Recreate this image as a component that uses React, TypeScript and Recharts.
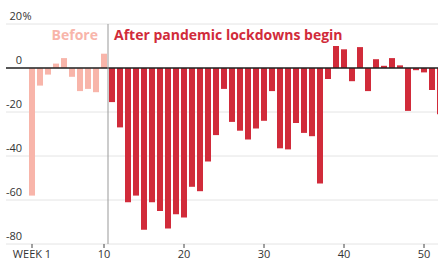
import React from 'react';
import { BarChart, Bar, XAxis, YAxis, CartesianGrid, ReferenceLine, Cell } from 'recharts';

const weeks = [
  1, 2, 3, 4, 5, 6, 7, 8, 9, 10,
  11, 12, 13, 14, 15, 16, 17, 18, 19, 20,
  21, 22, 23, 24, 25, 26, 27, 28, 29, 30,
  31, 32, 33, 34, 35, 36, 37, 38, 39, 40,
  41, 42, 43, 44, 45, 46, 47, 48, 49, 50,
  51, 52,
];

const changes = [
  -58, -8, -3, 2, 4.5, -4, -10.5, -9.5, -11, 6.5,
  -15.5, -27, -61, -58, -73.5, -61, -65, -73, -66.5, -68,
  -54, -56, -42.5, -30.5, -9.5, -24.5, -28.5, -32.5, -27.5, -24,
  -10.5, -36.5, -37, -25, -29.5, -31, -52.5, -5, 10, 8.5,
  -6, 9.5, -10.5, 4, 1, 4.5, 1.2, -19.5, -1, -2,
  -10, -21,
];

const lockdownStartWeek = 11;
const xTicks = [1, 10, 20, 30, 40, 50];
const yTicks = [-80, -60, -40, -20, 0, 20];
const beforeLabel = 'Before';
const afterLabel = 'After pandemic lockdowns begin';

const BEFORE_COLOR = '#f8b5aa';
const AFTER_COLOR = '#d12b3a';
const FONT = '"Open Sans", "Noto Sans", sans-serif';

const data = weeks.map((w, i) => ({ week: w, change: changes[i] }));

const YTick = (props: any) => {
  const { y, payload } = props;
  const v = payload.value as number;
  const txt = v < 0 ? '-' + Math.abs(v) : String(v);
  return (
    <g>
      <text x={22} y={y - 4} textAnchor="end" fontSize={11} fill="#333" fontFamily={FONT}>
        {txt}
      </text>
      {v === 20 ? (
        <text x={22.5} y={y - 4} textAnchor="start" fontSize={11} fill="#333" fontFamily={FONT}>
          %
        </text>
      ) : null}
    </g>
  );
};

const XTick = (props: any) => {
  const { x, payload } = props;
  const v = payload.value as number;
  const txt = v === 1 ? 'WEEK 1' : String(v);
  return (
    <text x={x} y={258} textAnchor="middle" fontSize={11} fill="#333" fontFamily={FONT}>
      {txt}
    </text>
  );
};

const DividerLabel = (props: any) => {
  const vb = props.viewBox || {};
  const x = vb.x ?? 0;
  return (
    <g>
      <text x={x - 10} y={40} textAnchor="end" fontSize={14} fontWeight={700} fill={BEFORE_COLOR} fontFamily={FONT}>
        {beforeLabel}
      </text>
      <text x={x + 6} y={40} textAnchor="start" fontSize={14} fontWeight={700} fill={AFTER_COLOR} fontFamily={FONT}>
        {afterLabel}
      </text>
    </g>
  );
};

export default function App() {
  return (
    <div style={{ position: 'fixed', left: 0, top: 0, width: 438, height: 260, overflow: 'hidden', background: '#fff' }}>
      <BarChart
        width={446}
        height={260}
        data={data}
        margin={{ top: 24, right: 0, bottom: 0, left: 0 }}
        barSize={6}
      >
        <CartesianGrid vertical={false} stroke="#e4e4e4" strokeWidth={1} />
        <XAxis
          dataKey="week"
          type="number"
          domain={[-2.25, 52.75]}
          ticks={xTicks}
          height={16}
          axisLine={false}
          tickLine={{ stroke: '#444' }}
          tickSize={4}
          tick={<XTick />}
          interval={0}
        />
        <YAxis
          type="number"
          domain={[-80, 20]}
          ticks={yTicks}
          width={6}
          axisLine={false}
          tickLine={false}
          tick={<YTick />}
          interval={0}
        />
        <Bar dataKey="change" isAnimationActive={false}>
          {data.map((d) => (
            <Cell key={d.week} fill={d.week < lockdownStartWeek ? BEFORE_COLOR : AFTER_COLOR} />
          ))}
        </Bar>
        <ReferenceLine y={0} stroke="#222" strokeWidth={1.5} />
        <ReferenceLine x={10.5} stroke="#999" strokeWidth={1} label={<DividerLabel />} />
      </BarChart>
    </div>
  );
}
